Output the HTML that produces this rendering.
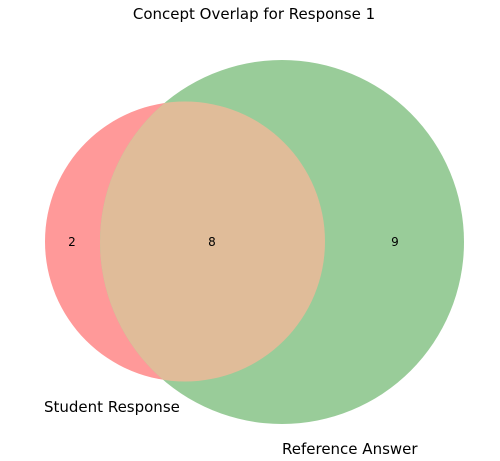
<!DOCTYPE html>
<html><head><meta charset="utf-8"><style>
html,body{margin:0;padding:0;background:#fff;}
svg{display:block;}
text{font-family:"DejaVu Sans","Liberation Sans",sans-serif;fill:#000;}
</style></head><body>
<svg width="500" height="461" viewBox="0 0 500 461" xmlns="http://www.w3.org/2000/svg">
<defs>
<clipPath id="cr"><circle cx="185" cy="241.5" r="140"/></clipPath>
</defs>
<circle cx="185" cy="241.5" r="140" fill="#ff9999"/>
<circle cx="282" cy="242" r="182" fill="#99cc99"/>
<circle cx="282" cy="242" r="182" fill="#e0bc99" clip-path="url(#cr)"/>
<text x="254" y="19" font-size="15" text-anchor="middle">Concept Overlap for Response 1</text>
<text x="72" y="246" font-size="12" text-anchor="middle">2</text>
<text x="212" y="246" font-size="12" text-anchor="middle">8</text>
<text x="395" y="246" font-size="12" text-anchor="middle">9</text>
<text x="44" y="412" font-size="15">Student Response</text>
<text x="282" y="454" font-size="15">Reference Answer</text>
</svg>
</body></html>
